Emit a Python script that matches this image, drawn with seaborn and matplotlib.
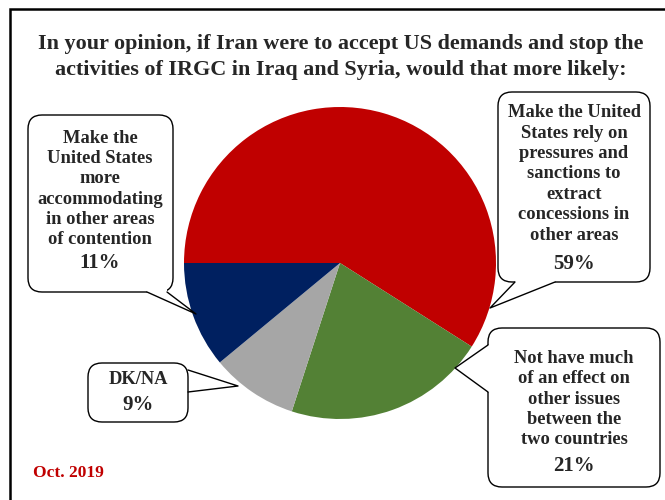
import matplotlib.pyplot as plt
import seaborn as sns
from matplotlib.patches import FancyBboxPatch, Polygon

# data
labels = [
    "Make the United\nStates rely on\npressures and\nsanctions to\nextract\nconcessions in\nother areas",
    "Not have much\nof an effect on\nother issues\nbetween the\ntwo countries",
    "DK/NA",
    "Make the\nUnited States\nmore\naccommodating\nin other areas\nof contention",
]
values = [59, 21, 9, 11]
colors = ["#C00000", "#538135", "#A6A6A6", "#002060"]
title = ("In your opinion, if Iran were to accept US demands and stop the\n"
         "activities of IRGC in Iraq and Syria, would that more likely:")
note = "Oct. 2019"

# callout layout in pixel coords (y down): box, label centre, pct centre, tail
callouts = [
    dict(box=(498, 92, 650, 282), lab=(574, 174), pct=(574, 264),
         base=[(515, 282), (555, 282)], tip=(490, 308)),
    dict(box=(488, 328, 660, 487), lab=(574, 399), pct=(574, 466),
         base=[(488, 345), (488, 392)], tip=(455, 368)),
    dict(box=(88, 363, 188, 422), lab=(138, 380), pct=(138, 405),
         base=[(188, 370), (188, 392)], tip=(238, 386)),
    dict(box=(28, 115, 173, 292), lab=(100, 189), pct=(100, 263),
         base=[(147, 292), (167, 292)], tip=(196, 314)),
]

W, H = 665, 500


def Y(y):
    return H - y


sns.set_theme(style="white")
plt.rcParams["font.family"] = ["Liberation Serif", "DejaVu Serif"]

fig = plt.figure(figsize=(6.65, 5), dpi=100)
ax = fig.add_axes([0, 0, 1, 1])

ax.pie(values, colors=colors, startangle=180, counterclock=False,
       center=(340, Y(263)), radius=156, wedgeprops=dict(linewidth=0))

ax.set_xlim(0, W)
ax.set_ylim(0, H)
ax.set_aspect("equal")
ax.axis("off")

# outer frame (left and top only visible)
ax.plot([10, 10, W + 5], [Y(H + 5), Y(9), Y(9)], color="black", lw=1.8,
        solid_joinstyle="miter")

ax.text(341, Y(57), title, ha="center", va="center", fontsize=15.9,
        fontweight="bold", linespacing=1.45)

for c, lab, v in zip(callouts, labels, values):
    x0, y0, x1, y1 = c["box"]
    r = 14
    ax.add_patch(FancyBboxPatch((x0 + r, Y(y1) + r), (x1 - x0) - 2 * r,
                                (y1 - y0) - 2 * r,
                                boxstyle=f"round,pad={r}", fc="white",
                                ec="black", lw=1.0, zorder=3))
    (bx0, by0), (bx1, by1) = c["base"]
    tx, ty = c["tip"]
    # white wedge covering the box edge under the tail
    if by0 == by1:
        inner = [(bx0, Y(by0 - 3)), (bx1, Y(by1 - 3))]
    else:
        inner = [(bx0 + 3, Y(by0)), (bx1 + 3, Y(by1))]
    poly = [inner[0], (bx0, Y(by0)), (tx, Y(ty)), (bx1, Y(by1)), inner[1]]
    ax.add_patch(Polygon(poly, closed=True, fc="white", ec="none", zorder=4))
    ax.plot([bx0, tx, bx1], [Y(by0), Y(ty), Y(by1)], color="black", lw=1.0,
            zorder=5)
    ax.text(c["lab"][0], Y(c["lab"][1]), lab, ha="center", va="center",
            fontsize=13.3, fontweight="bold", linespacing=1.26, zorder=6)
    ax.text(c["pct"][0], Y(c["pct"][1]), f"{v}%", ha="center", va="center",
            fontsize=15, fontweight="bold", zorder=6)

ax.text(33, Y(473), note, ha="left", va="center", fontsize=12.5,
        fontweight="bold", color="#C00000")

fig.savefig("out.png", dpi=100)
